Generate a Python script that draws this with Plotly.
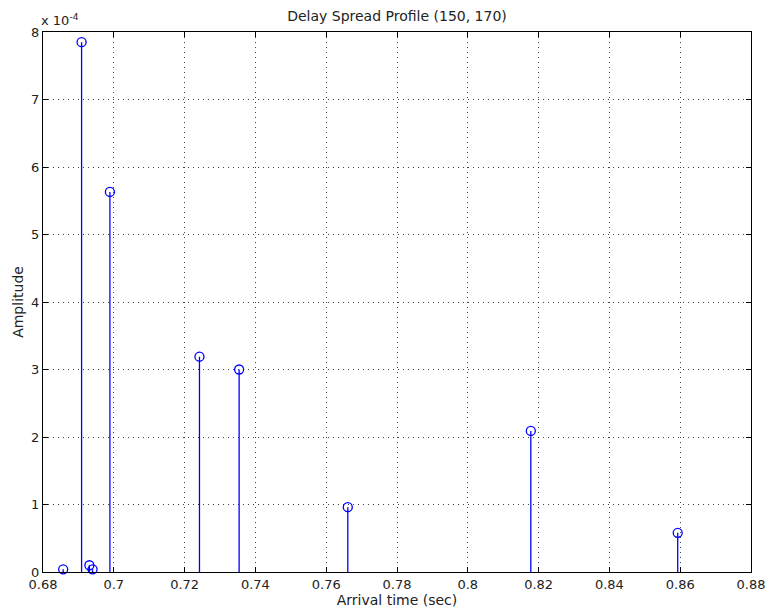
import plotly.graph_objects as go

# Data
arrival_time = [0.6857, 0.6909, 0.6931, 0.6940, 0.6989, 0.7242, 0.7354, 0.7661, 0.8178, 0.8593]
amplitude = [0.04e-4, 7.85e-4, 0.10e-4, 0.04e-4, 5.63e-4, 3.19e-4, 3.00e-4, 0.96e-4, 2.09e-4, 0.58e-4]

x_ticks = [0.68, 0.70, 0.72, 0.74, 0.76, 0.78, 0.80, 0.82, 0.84, 0.86, 0.88]
x_ticklabels = ["0.68", "0.7", "0.72", "0.74", "0.76", "0.78", "0.8", "0.82", "0.84", "0.86", "0.88"]
y_ticks = [0, 1e-4, 2e-4, 3e-4, 4e-4, 5e-4, 6e-4, 7e-4, 8e-4]
y_ticklabels = ["0", "1", "2", "3", "4", "5", "6", "7", "8"]

BLUE = "rgb(0,0,255)"
FONT = "DejaVu Sans"
TXT = "#222"

stem_x, stem_y = [], []
for t, a in zip(arrival_time, amplitude):
    stem_x += [t, t, None]
    stem_y += [0, a, None]

fig = go.Figure()
fig.add_trace(go.Scatter(x=stem_x, y=stem_y, mode="lines",
                         line=dict(color=BLUE, width=1.3), hoverinfo="skip",
                         showlegend=False))
fig.add_trace(go.Scatter(x=arrival_time, y=amplitude, mode="markers",
                         marker=dict(symbol="circle-open", size=9,
                                     color=BLUE, line=dict(color=BLUE, width=1.3)),
                         cliponaxis=False, showlegend=False))

axis_common = dict(showline=True, linecolor="black", linewidth=1, mirror="ticks",
                   ticks="inside", ticklen=5, tickcolor="black",
                   showgrid=True, gridcolor="rgba(0,0,0,0.75)", gridwidth=1,
                   griddash="1px,4px", zeroline=False, automargin=False,
                   tickfont=dict(family=FONT, size=13, color=TXT))

fig.update_xaxes(range=[0.68, 0.88], tickvals=x_ticks, ticktext=x_ticklabels,
                 title=dict(text="Arrival time (sec)", standoff=2,
                            font=dict(family=FONT, size=14, color=TXT)),
                 **axis_common)
fig.update_yaxes(range=[0, 8e-4], tickvals=y_ticks, ticktext=y_ticklabels,
                 title=dict(text="Amplitude", standoff=4,
                            font=dict(family=FONT, size=14, color=TXT)),
                 **axis_common)

fig.update_layout(
    width=770, height=616,
    margin=dict(l=43, r=19, t=32, b=44),
    plot_bgcolor="white", paper_bgcolor="white",
    title=dict(text="Delay Spread Profile (150, 170)", x=0.5, xanchor="center",
               xref="paper",
               y=1 - 16 / 616, yanchor="middle",
               font=dict(family=FONT, size=14, color=TXT)),
    annotations=[dict(text="x 10<sup>-4</sup>", xref="paper", yref="paper",
                      x=0, y=1, xanchor="left", yanchor="bottom", xshift=-4, yshift=2,
                      showarrow=False, font=dict(family=FONT, size=13, color=TXT))],
)

fig.write_html("out.html")
